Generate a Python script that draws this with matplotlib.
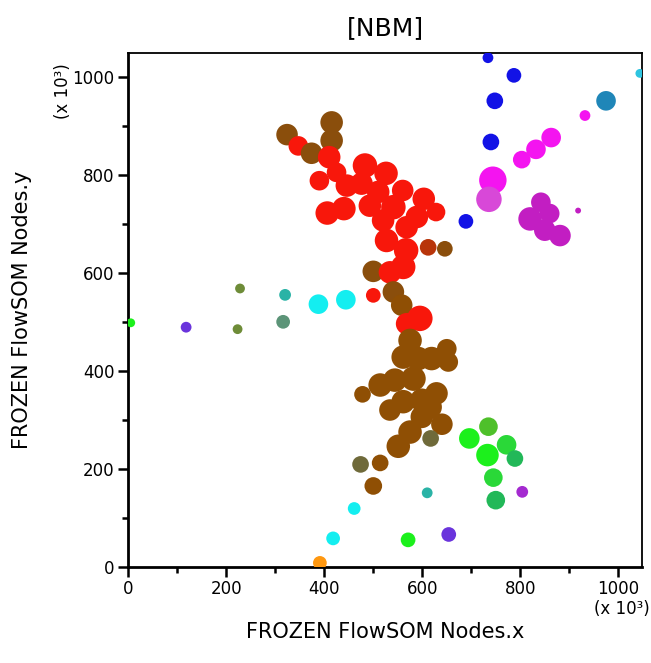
import numpy as np
import matplotlib
matplotlib.use("Agg")
import matplotlib.pyplot as plt
from matplotlib.ticker import MultipleLocator

# FlowSOM node centres (x10^3), node radius (x10^3 units) and metacluster colour
node_x = [734, 787, 748, 740, 689,
          1044, 975, 932, 863, 832, 803, 744, 736,
          842, 820, 850, 881, 860, 918,
          324, 347, 374, 415, 415, 410, 425, 390, 483, 526, 446, 476, 510, 560,
          603, 628, 406, 440, 493, 541, 520, 589, 568, 527, 567, 612, 646,
          500, 534, 561,
          500, 444, 541, 558, 595, 568, 575, 650, 561, 592, 619, 653, 514, 544,
          582, 478, 629, 561, 599, 534, 616, 599, 640, 575, 617, 551, 474, 514, 500,
          696, 735, 733, 772, 789, 745, 750, 804,
          610, 571, 654, 461, 418, 391,
          5, 118, 228, 223, 320, 316, 388]
node_y = [1040, 1004, 952, 868, 706,
          1008, 952, 922, 877, 853, 832, 790, 751,
          745, 711, 688, 677, 722, 728,
          883, 860, 845, 908, 871, 837, 806, 789, 820, 804, 779, 783, 766, 769,
          752, 725, 723, 732, 738, 735, 708, 715, 694, 667, 647, 653, 650,
          604, 602, 613,
          555, 546, 562, 535, 508, 497, 463, 446, 429, 426, 426, 419, 372, 382,
          385, 353, 355, 338, 341, 321, 327, 307, 292, 276, 263, 247, 210, 213, 166,
          263, 287, 229, 250, 222, 183, 137, 154,
          152, 56, 67, 120, 59, 9,
          499, 490, 569, 486, 556, 501, 537]
node_r = [11, 15, 17, 17, 15,
          9, 20, 11, 20, 20, 18, 28, 26,
          20, 24, 22, 22, 20, 6,
          22, 20, 22, 23, 23, 23, 20, 20, 25, 24, 23, 23, 23, 22,
          23, 19, 24, 24, 23, 25, 23, 23, 23, 24, 25, 17, 16,
          22, 23, 25,
          15, 20, 22, 22, 26, 22, 24, 20, 24, 24, 24, 20, 24, 24,
          25, 17, 23, 24, 24, 22, 24, 23, 22, 24, 17, 24, 17, 17, 18,
          21, 19, 23, 20, 17, 19, 19, 12,
          11, 15, 15, 13, 14, 14,
          9, 11, 10, 10, 12, 14, 20]
node_cluster = ["blue"] * 5 + \
    ["lightblue", "steel", "magenta", "magenta", "magenta", "magenta", "magenta", "orchid"] + \
    ["purple"] * 6 + \
    ["olive", "red", "olive", "olive", "olive"] + ["red"] * 20 + ["redolive", "olive"] + \
    ["olive", "red", "red"] + \
    ["red", "cyan", "olive", "brown", "red", "red"] + ["brown"] * 18 + \
    ["teal_brown", "brown", "teal_brown", "brown", "brown"] + \
    ["green", "green_brown", "green", "green_dark", "green_blue", "green_dark", "green_blue", "violet"] + \
    ["teal", "green", "violetblue", "cyan", "cyan", "orange"] + \
    ["green", "violetblue", "olivegreen", "olivegreen", "teal", "teal_mix", "cyan"]

cluster_colors = {
    "blue": "#1212e6", "lightblue": "#2ec4e0", "steel": "#1f86b8",
    "magenta": "#f414f0", "orchid": "#d848d8", "purple": "#c21ec2",
    "red": "#f8170b", "olive": "#8a4e0c", "redolive": "#b8350a",
    "brown": "#8f4f04", "teal_brown": "#6f6a3a", "cyan": "#14eef0",
    "green": "#1cf01c", "green_brown": "#4ec02a", "green_dark": "#2ad838",
    "green_blue": "#22b858", "violet": "#a42ad0", "teal": "#2ab3a6",
    "violetblue": "#6a34dc", "orange": "#ff9810", "olivegreen": "#6e8c38",
    "teal_mix": "#5c9478",
}

fig = plt.figure(figsize=(6.51, 6.63), dpi=100)
ax = fig.add_axes([128.3 / 651, 95.7 / 663, 514 / 651, 514 / 663])

# convert radius in data units to marker area in points^2
px_per_unit = 514 / 1049
sizes = [(2 * r * px_per_unit * 0.72) ** 2 for r in node_r]
colors = [cluster_colors[c] for c in node_cluster]
ax.scatter(node_x, node_y, s=sizes, c=colors, linewidths=0, zorder=3)

ticks = [0, 200, 400, 600, 800, 1000]
tick_family = ["Liberation Sans Narrow", "DejaVu Sans"]
ax.set_xticks(ticks)
ax.set_yticks(ticks)
ax.set_xticklabels([str(t) for t in ticks], family=tick_family, fontsize=12)
ax.set_yticklabels([str(t) for t in ticks], family=tick_family, fontsize=12)
ax.xaxis.set_minor_locator(MultipleLocator(100))
ax.yaxis.set_minor_locator(MultipleLocator(100))
ax.tick_params(which="major", direction="out", length=7, width=1.8, pad=2,
               top=False, right=False)
ax.tick_params(which="minor", direction="out", length=4, width=1.8,
               top=False, right=False)
ax.tick_params(axis="y", which="major", pad=3)
ax.set_xlim(0, 1049)
ax.set_ylim(0, 1049)

for side in ("left", "bottom"):
    ax.spines[side].set_linewidth(2.0)
for side in ("top", "right"):
    ax.spines[side].set_linewidth(1.3)

fig.text(385 / 651, 1 - 28 / 663, "[NBM]", ha="center", va="center",
         fontsize=18, family="DejaVu Sans")
fig.text(385 / 651, 1 - 632 / 663, "FROZEN FlowSOM Nodes.x", ha="center",
         va="center", fontsize=15, family="DejaVu Sans")
fig.text(22 / 651, 1 - 310 / 663, "FROZEN FlowSOM Nodes.y", ha="center",
         va="center", rotation=90, fontsize=15, family="DejaVu Sans")
fig.text(63 / 651, 1 - 91 / 663, "(x 10³)", ha="center", va="center",
         rotation=90, fontsize=12, family=tick_family)
fig.text(622 / 651, 1 - 609 / 663, "(x 10³)", ha="center", va="center",
         fontsize=12, family=tick_family)

fig.savefig("out.png", dpi=100)
